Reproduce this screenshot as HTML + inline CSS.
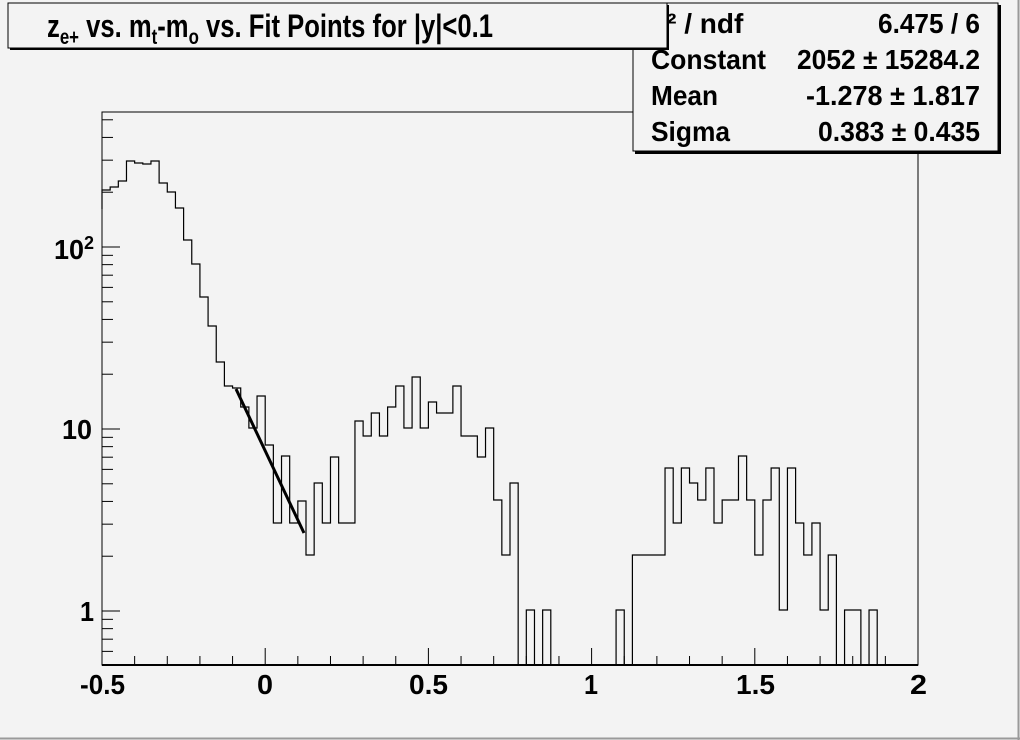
<!DOCTYPE html>
<html><head><meta charset="utf-8"><style>
html,body{margin:0;padding:0;background:#f3f3f3;}
svg{display:block;font-family:"Liberation Sans",Arial,sans-serif;font-weight:bold;}
</style></head><body>
<svg id="s" width="1020" height="740" viewBox="0 0 1020 740" xmlns="http://www.w3.org/2000/svg">
<rect x="0" y="0" width="1020" height="740" fill="#f3f3f3"/>
<line x1="1018.5" y1="0" x2="1018.5" y2="740" stroke="#9a9a9a" stroke-width="2"/>
<line x1="0" y1="738.5" x2="1020" y2="738.5" stroke="#9a9a9a" stroke-width="2"/>
<rect x="102" y="112" width="816" height="553" fill="#f3f3f3" stroke="#000" stroke-width="1"/>
<g id="ticks" stroke="#000" stroke-width="1"></g>
<path id="hist" fill="none" stroke="#000" stroke-width="1.2"/>
<line x1="236" y1="389" x2="304" y2="533" stroke="#000" stroke-width="3"/>
<line x1="102" y1="665" x2="918" y2="665" stroke="#000" stroke-width="2"/>
<g font-size="28" lengthAdjust="spacingAndGlyphs">
<text x="80" y="694" textLength="45" lengthAdjust="spacingAndGlyphs">-0.5</text>
<text x="257" y="694" textLength="16" lengthAdjust="spacingAndGlyphs">0</text>
<text x="409" y="694" textLength="39" lengthAdjust="spacingAndGlyphs">0.5</text>
<text x="584" y="694" textLength="14" lengthAdjust="spacingAndGlyphs">1</text>
<text x="736" y="694" textLength="39" lengthAdjust="spacingAndGlyphs">1.5</text>
<text x="910" y="694" textLength="17" lengthAdjust="spacingAndGlyphs">2</text>
<text x="54" y="259" textLength="30" lengthAdjust="spacingAndGlyphs">10</text>
<text x="84" y="249" font-size="18">2</text>
<text x="62" y="439" textLength="30" lengthAdjust="spacingAndGlyphs">10</text>
<text x="80" y="621" textLength="14" lengthAdjust="spacingAndGlyphs">1</text>
</g>
<!-- stats box -->
<rect x="635" y="5" width="366" height="149" fill="#000"/>
<rect x="633" y="3" width="365" height="148" fill="#f3f3f3" stroke="#000" stroke-width="1"/>
<g font-size="28">
<text x="651" y="33">χ² / ndf</text>
<text x="651" y="69" textLength="115" lengthAdjust="spacingAndGlyphs">Constant</text>
<text x="651" y="105" textLength="67" lengthAdjust="spacingAndGlyphs">Mean</text>
<text x="651" y="141" textLength="79" lengthAdjust="spacingAndGlyphs">Sigma</text>
<text x="878" y="33" textLength="102" lengthAdjust="spacingAndGlyphs">6.475 / 6</text>
<text x="797" y="69" textLength="183" lengthAdjust="spacingAndGlyphs">2052 ± 15284.2</text>
<text x="806" y="105" textLength="174" lengthAdjust="spacingAndGlyphs">-1.278 ± 1.817</text>
<text x="818" y="141" textLength="162" lengthAdjust="spacingAndGlyphs">0.383 ± 0.435</text>
</g>
<!-- title -->
<rect x="10" y="5" width="659" height="45" fill="#000"/>
<rect x="8" y="3" width="659" height="45" fill="#f3f3f3" stroke="#000" stroke-width="1"/>
<text x="47" y="37" font-size="32" textLength="446" lengthAdjust="spacingAndGlyphs">z<tspan font-size="21" dy="7">e+</tspan><tspan dy="-7"> vs. m</tspan><tspan font-size="21" dy="7">t</tspan><tspan dy="-7">-m</tspan><tspan font-size="21" dy="7">o</tspan><tspan dy="-7"> vs. Fit Points for |y|&lt;0.1</tspan></text>
</svg>
<script>
var ys=[190,187,181,161,163,164,161,183,192,208,240,264,297,326,362,386,388,407,428,396,445,523,456,523,501,555,483,523,457,523,523,421,436,413,436,407,386,428,377,428,402,413,413,386,436,436,457,428,500,555,483,665,610,665,610,665,665,665,665,665,665,665,665,610,665,555,555,555,555,468,523,468,483,500,468,523,500,500,456,500,555,500,468,610,468,523,555,523,610,555,665,610,610,665,610,665,665,665,665,665];
var d="M102,209 V"+ys[0];
for(var k=0;k<100;k++){var x1=(102+8.16*(k+1)).toFixed(2);d+=" H"+x1;if(k<99)d+=" V"+ys[k+1];}
document.getElementById("hist").setAttribute("d",d);
var t="";
for(var i=-5;i<=20;i++){var x=102+32.64*(i+5);var L=(i%5==0)?17:9;t+='<line x1="'+x+'" y1="665" x2="'+x+'" y2="'+(665-L)+'"/>';}
function yl(v){return 611-182*Math.log10(v);}
var vals=[0.6,0.7,0.8,0.9,1,2,3,4,5,6,7,8,9,10,20,30,40,50,60,70,80,90,100,200,300,400,500];
vals.forEach(function(v){var y=yl(v);var m=Math.abs(Math.log10(v)-Math.round(Math.log10(v)))<1e-9;var L=m?18:11;t+='<line x1="102" y1="'+y+'" x2="'+(102+L)+'" y2="'+y+'"/>';});
document.getElementById("ticks").innerHTML=t;
</script>
</body></html>
